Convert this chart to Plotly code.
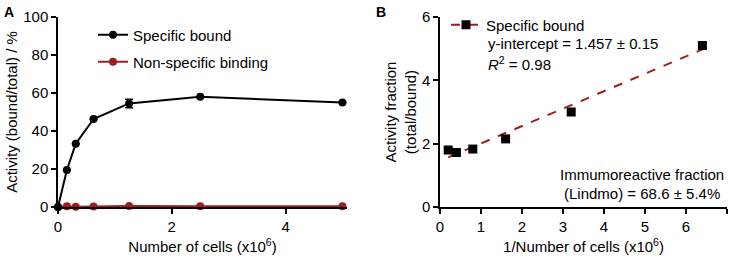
import plotly.graph_objects as go

# Panel A data
cells = [0, 0.15625, 0.3125, 0.625, 1.25, 2.5, 5.0]
specific = [0, 19.5, 33.3, 46.3, 54.5, 58.0, 55.0]
specific_err = [0, 0, 0, 0, 2.2, 0, 0]
nonspecific = [0, 0.4, 0.1, 0.3, 0.5, 0.4, 0.4]

# Panel B data
inv_cells = [0.2, 0.4, 0.8, 1.6, 3.2, 6.4]
activity_fraction = [1.80, 1.72, 1.83, 2.15, 3.00, 5.10]
fit_intercept = 1.457
fit_slope = 0.55

BLACK = "#000000"
RED = "#A11D1D"
FONT = "Liberation Sans, Arial, sans-serif"
FS = 15

fig = go.Figure()

fig.add_trace(go.Scatter(
    x=cells, y=nonspecific, mode="lines+markers", name="Non-specific binding",
    line=dict(color=RED, width=2), marker=dict(color=RED, size=8, symbol="circle"),
    cliponaxis=False, xaxis="x", yaxis="y", legend="legend2"))
fig.add_trace(go.Scatter(
    x=cells, y=specific, mode="lines+markers", name="Specific bound",
    line=dict(color=BLACK, width=2), marker=dict(color=BLACK, size=8, symbol="circle"),
    error_y=dict(type="data", array=specific_err, color=BLACK, thickness=1.5, width=4),
    cliponaxis=False, xaxis="x", yaxis="y", legend="legend"))

# Panel B
xfit = [min(inv_cells), max(inv_cells)]
yfit = [fit_intercept + fit_slope * v for v in xfit]
fig.add_trace(go.Scatter(
    x=xfit, y=yfit, mode="lines", showlegend=False,
    line=dict(color=RED, width=2, dash="dash"), xaxis="x2", yaxis="y2"))
fig.add_trace(go.Scatter(
    x=inv_cells, y=activity_fraction, mode="markers", showlegend=False,
    marker=dict(color=BLACK, size=9, symbol="square"), cliponaxis=False,
    xaxis="x2", yaxis="y2"))
fig.add_trace(go.Scatter(
    x=[None], y=[None], mode="lines+markers", name="Specific bound",
    line=dict(color=RED, width=2, dash="dash"),
    marker=dict(color=BLACK, size=9, symbol="square"),
    xaxis="x2", yaxis="y2", legend="legend3"))

W, H = 730, 258
def px(x):
    return x / W
def py(y):
    return 1 - y / H

axis_common = dict(
    showline=True, linecolor=BLACK, linewidth=1.5, ticks="outside", ticklen=5,
    tickwidth=1.5, tickcolor=BLACK, showgrid=False, zeroline=False, automargin=False,
    tickfont=dict(family=FONT, size=FS, color=BLACK),
    title_font=dict(family=FONT, size=FS, color=BLACK),
)

fig.update_layout(
    width=W, height=H, margin=dict(l=0, r=0, t=0, b=0, autoexpand=False),
    paper_bgcolor="white", plot_bgcolor="white",
    font=dict(family=FONT, size=FS, color=BLACK),
    xaxis=dict(domain=[px(58), px(347)], range=[0, 5.08], tickvals=[0, 2, 4],
               anchor="y", title=dict(text="Number of cells (x10<sup>6</sup>)", standoff=8),
               **axis_common),
    yaxis=dict(domain=[py(207), py(17)], range=[0, 100], tickvals=[0, 20, 40, 60, 80, 100],
               anchor="x", title=dict(text="Activity (bound/total) / %", standoff=2),
               **axis_common),
    xaxis2=dict(domain=[px(440), px(727)], range=[0, 7], tickvals=list(range(8)),
                anchor="y2", title=dict(text="1/Number of cells (x10<sup>6</sup>)", standoff=8),
                **axis_common),
    yaxis2=dict(domain=[py(207), py(17)], range=[0, 6], tickvals=[0, 2, 4, 6],
                anchor="x2", title=dict(text="Activity fraction<br>(total/bound)", standoff=2),
                **axis_common),
    legend=dict(x=px(93), y=py(35), yanchor="middle", xanchor="left", itemwidth=30,
                bgcolor="rgba(0,0,0,0)", font=dict(family=FONT, size=FS)),
    legend2=dict(x=px(93), y=py(62), yanchor="middle", xanchor="left", itemwidth=30,
                 bgcolor="rgba(0,0,0,0)", font=dict(family=FONT, size=FS)),
    legend3=dict(x=px(446), y=py(25), yanchor="middle", xanchor="left", itemwidth=30,
                 bgcolor="rgba(0,0,0,0)", font=dict(family=FONT, size=FS)),
    showlegend=True,
)

annots = [
    dict(text="<b>A</b>", x=px(2), y=py(2), xanchor="left", yanchor="top", size=14),
    dict(text="<b>B</b>", x=px(374), y=py(2), xanchor="left", yanchor="top", size=14),
    dict(text="y-intercept = 1.457 ± 0.15", x=px(486), y=py(44), xanchor="left", yanchor="middle", size=FS),
    dict(text="<i>R</i><sup>2</sup> = 0.98", x=px(486), y=py(63), xanchor="left", yanchor="middle", size=FS),
    dict(text="Immumoreactive fraction", x=px(726), y=py(174), xanchor="right", yanchor="middle", size=FS),
    dict(text="(Lindmo) = 68.6 ± 5.4%", x=px(722), y=py(193), xanchor="right", yanchor="middle", size=FS),
]
for a in annots:
    fig.add_annotation(text=a["text"], x=a["x"], y=a["y"], xref="paper", yref="paper",
                       xanchor=a["xanchor"], yanchor=a["yanchor"], showarrow=False,
                       font=dict(family=FONT, size=a["size"], color=BLACK))

fig.write_html("out.html", config={"displayModeBar": False},
               post_script="document.body.style.margin='0';document.body.style.overflow='hidden';")
